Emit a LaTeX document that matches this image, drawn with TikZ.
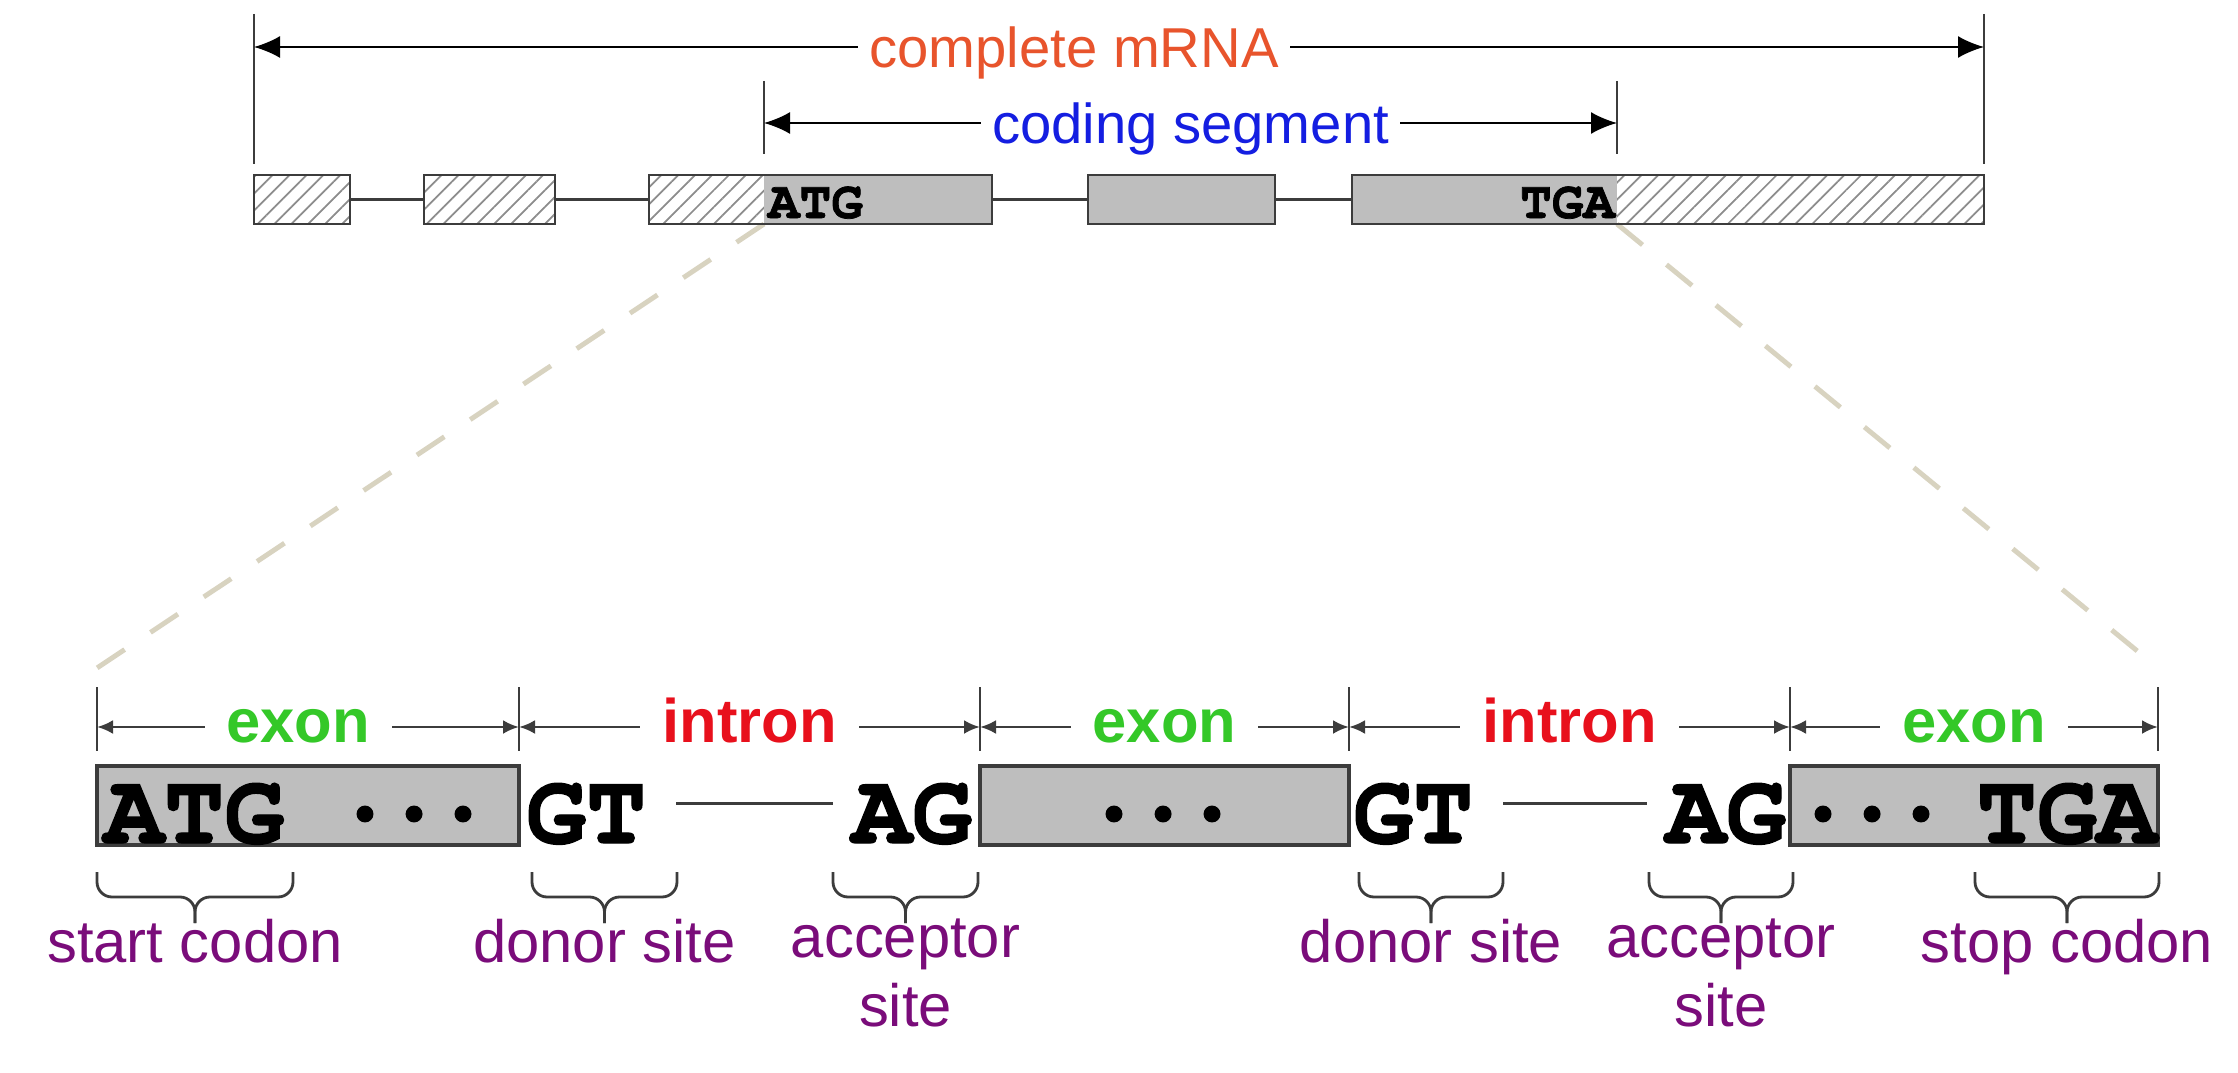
\documentclass[tikz,border=0pt]{standalone}
\usepackage{fontspec}
\setmainfont{Liberation Sans}
\newfontfamily\seqfont[BoldFont=texgyrecursor-bold.otf, BoldFeatures={FakeBold=1.4}]{texgyrecursor-regular.otf}
\definecolor{mrnaorange}{RGB}{232,84,44}
\definecolor{codingblue}{RGB}{20,30,225}
\definecolor{exongreen}{RGB}{52,200,40}
\definecolor{intronred}{RGB}{232,16,28}
\definecolor{sitepurple}{RGB}{122,12,122}
\definecolor{cdsgrey}{RGB}{190,190,190}
\definecolor{hatchgrey}{RGB}{140,140,140}
\definecolor{linegrey}{RGB}{60,60,60}
\definecolor{zoomgrey}{RGB}{216,211,192}
\usetikzlibrary{arrows.meta}
\usetikzlibrary{patterns.meta}
\usetikzlibrary{calc}
\tikzstyle{base}=[x=0.1mm, y=-0.1mm, inner sep=0pt, outer sep=0pt]
\tikzstyle{utr}=[pattern={Lines[angle=45,distance=3.4pt,line width=0.5pt]}, pattern color=hatchgrey, minimum height=4.9mm]
\tikzstyle{cds}=[fill=cdsgrey, minimum height=4.9mm]
\tikzstyle{outline}=[draw=linegrey, line width=0.8pt]
\tikzstyle{bigbox}=[fill=cdsgrey, draw=linegrey, line width=0.9pt, minimum height=7.9mm]
\tikzstyle{intronline}=[draw=linegrey, line width=0.7pt]
\tikzstyle{tick}=[draw=linegrey, line width=0.7pt]
\tikzstyle{toparrow}=[{Latex[length=2.6mm,width=2.2mm]}-{Latex[length=2.6mm,width=2.2mm]}, draw=black, line width=0.6pt]
\tikzstyle{dimarrow}=[{Latex[length=1.6mm,width=1.4mm]}-{Latex[length=1.6mm,width=1.4mm]}, draw=linegrey, line width=0.8pt]
\tikzstyle{toplabel}=[fill=white, inner xsep=1.1mm, inner ysep=0.5mm, font=\fontsize{16}{19}\selectfont, text height=11.4pt, text depth=0pt]
\tikzstyle{dimlabel}=[fill=white, inner xsep=2.2mm, inner ysep=0.5mm, font=\fontsize{17.5}{21}\selectfont\bfseries, text height=9.1pt, text depth=0pt]
\tikzstyle{seqsmall}=[font=\seqfont\bfseries\fontsize{15}{17}\selectfont]
\tikzstyle{seqbig}=[font=\seqfont\bfseries\fontsize{28.5}{30}\selectfont]
\tikzstyle{seqdots}=[font=\seqfont\bfseries\fontsize{33}{36}\selectfont]
\tikzstyle{bracestroke}=[draw=linegrey, line width=0.8pt, rounded corners=1.5mm]
\tikzstyle{sitelabel}=[anchor=north, yshift=0.4mm, text=sitepurple, font=\fontsize{17}{19.5}\selectfont, align=center]
\tikzstyle{zoomline}=[draw=zoomgrey, line width=1.4pt, dash pattern=on 3.3mm off 3.1mm]
\newcommand*{\sitebrace}[4]{%
    \draw [bracestroke] (#1) |- ($(#1)!0.5!(#2)+(0,25)$) -- ($(#1)!0.5!(#2)+(0,51)$);
    \draw [bracestroke] (#2) |- ($(#1)!0.5!(#2)+(0,25)$) -- ($(#1)!0.5!(#2)+(0,51)$);
    \node [sitelabel] (#3) at ($(#1)!0.5!(#2)+(0,51)$) {#4};}
\newcommand*{\seqdots}{·\kern-2.06mm·\kern-2.06mm·}

\begin{document}
\begin{tikzpicture}[base]
    \path [use as bounding box] (0,0) rectangle (2238,1073);
    \coordinate (m1) at (254,47);
    \coordinate (m2) at (1984,47);
    \coordinate (c1) at (764,123);
    \coordinate (c2) at (1617,123);
    \coordinate (zl) at (97,668);
    \coordinate (zr) at (2158,668);
    \coordinate (d1) at (97,727);
    \coordinate (d2) at (519,727);
    \coordinate (d3) at (980,727);
    \coordinate (d4) at (1349,727);
    \coordinate (d5) at (1790,727);
    \coordinate (d6) at (2158,727);
        \draw [tick] (m1) ++(0,-33) -- ++(0,150);
        \draw [tick] (m2) ++(0,-33) -- ++(0,150);
        \draw [tick] (c1) ++(0,-42) -- ++(0,73);
        \draw [tick] (c2) ++(0,-42) -- ++(0,73);
        \draw [toparrow] (m1) -- node [toplabel, text=mrnaorange, pos=0.474] (lmrna) {complete mRNA} (m2);
        \draw [toparrow] (c1) -- node [toplabel, text=codingblue] (lcoding) {coding segment} (c2);
        \node [cds, minimum width=22.8mm] (c3) at (878,199.5) {};
        \node [cds, minimum width=26.5mm] (c5) at (1484.5,199.5) {};
        \draw [zoomline] (c3.south west) -- (zl);
        \draw [zoomline] (c5.south east) -- (zr);
        \node [utr, outline, minimum width=9.6mm] (ex1) at (302,199.5) {};
        \node [utr, outline, minimum width=13.1mm] (ex2) at (489.5,199.5) {};
        \node [utr, minimum width=11.5mm] (u3) at (706.5,199.5) {};
        \node [cds, minimum width=22.8mm] (c3) at (878,199.5) {};
        \draw [outline] (u3.north west) rectangle (c3.south east);
        \node [cds, outline, minimum width=18.7mm] (ex4) at (1181.5,199.5) {};
        \node [cds, minimum width=26.5mm] (c5) at (1484.5,199.5) {};
        \node [utr, minimum width=36.7mm] (u5) at (1800.5,199.5) {};
        \draw [outline] (c5.north west) rectangle (u5.south east);
        \draw [intronline] (ex1) -- (ex2);
        \draw [intronline] (ex2) -- (u3);
        \draw [intronline] (c3) -- (ex4);
        \draw [intronline] (ex4) -- (c5);
        \node [seqsmall, anchor=base west] (atgs) at (768,218) {ATG};
        \node [seqsmall, anchor=base east] (tgas) at (1615,218) {TGA};
        \draw [tick] (d1) ++(0,-40) -- ++(0,64);
        \draw [tick] (d2) ++(0,-40) -- ++(0,64);
        \draw [tick] (d3) ++(0,-40) -- ++(0,64);
        \draw [tick] (d4) ++(0,-40) -- ++(0,64);
        \draw [tick] (d5) ++(0,-40) -- ++(0,64);
        \draw [tick] (d6) ++(0,-40) -- ++(0,64);
        \draw [dimarrow] (d1) -- node [dimlabel, text=exongreen, pos=0.477] (lex1) {exon} (d2);
        \draw [dimarrow] (d2) -- node [dimlabel, text=intronred] (lin1) {intron} (d3);
        \draw [dimarrow] (d3) -- node [dimlabel, text=exongreen] (lex2) {exon} (d4);
        \draw [dimarrow] (d4) -- node [dimlabel, text=intronred] (lin2) {intron} (d5);
        \draw [dimarrow] (d5) -- node [dimlabel, text=exongreen] (lex3) {exon} (d6);
        \node [bigbox, minimum width=42.2mm] (exA) at (308,805.5) {};
        \node [bigbox, minimum width=36.9mm] (exB) at (1164.5,805.5) {};
        \node [bigbox, minimum width=36.8mm] (exC) at (1974,805.5) {};
        \node [seqbig, anchor=base west] (atg) at (104,843) {ATG};
        \node [seqdots, anchor=base] (dotsA) at (414,843) {\seqdots};
        \node [seqbig, anchor=base west] (gt1) at (526,843) {GT};
        \node [seqbig, anchor=base east] (ag1) at (972,843) {AG};
        \node [seqdots, anchor=base] (dotsB) at (1163,843) {\seqdots};
        \node [seqbig, anchor=base west] (gt2) at (1353,843) {GT};
        \node [seqbig, anchor=base east] (ag2) at (1786,843) {AG};
        \node [seqdots, anchor=base] (dotsC) at (1872,843) {\seqdots};
        \node [seqbig, anchor=base east] (tga) at (2157,843) {TGA};
        \draw [intronline, line width=0.9pt, shorten <=3mm, shorten >=1.9mm] ([yshift=1mm]gt1.east) -- ([yshift=1mm]ag1.west);
        \draw [intronline, line width=0.9pt, shorten <=3mm, shorten >=1.9mm] ([yshift=1mm]gt2.east) -- ([yshift=1mm]ag2.west);
    \coordinate (b1) at (97,872);
    \coordinate (b2) at (293,872);
    \coordinate (b3) at (532,872);
    \coordinate (b4) at (677,872);
    \coordinate (b5) at (833,872);
    \coordinate (b6) at (978,872);
    \coordinate (b7) at (1359,872);
    \coordinate (b8) at (1503,872);
    \coordinate (b9) at (1649,872);
    \coordinate (b10) at (1793,872);
    \coordinate (b11) at (1975,872);
    \coordinate (b12) at (2159,872);
        \sitebrace{b1}{b2}{start}{start codon}
        \sitebrace{b3}{b4}{donor1}{donor site}
        \sitebrace{b5}{b6}{acceptor1}{acceptor\\site}
        \sitebrace{b7}{b8}{donor2}{donor site}
        \sitebrace{b9}{b10}{acceptor2}{acceptor\\site}
        \sitebrace{b11}{b12}{stop}{stop codon}
    \end{tikzpicture}
\end{document}
